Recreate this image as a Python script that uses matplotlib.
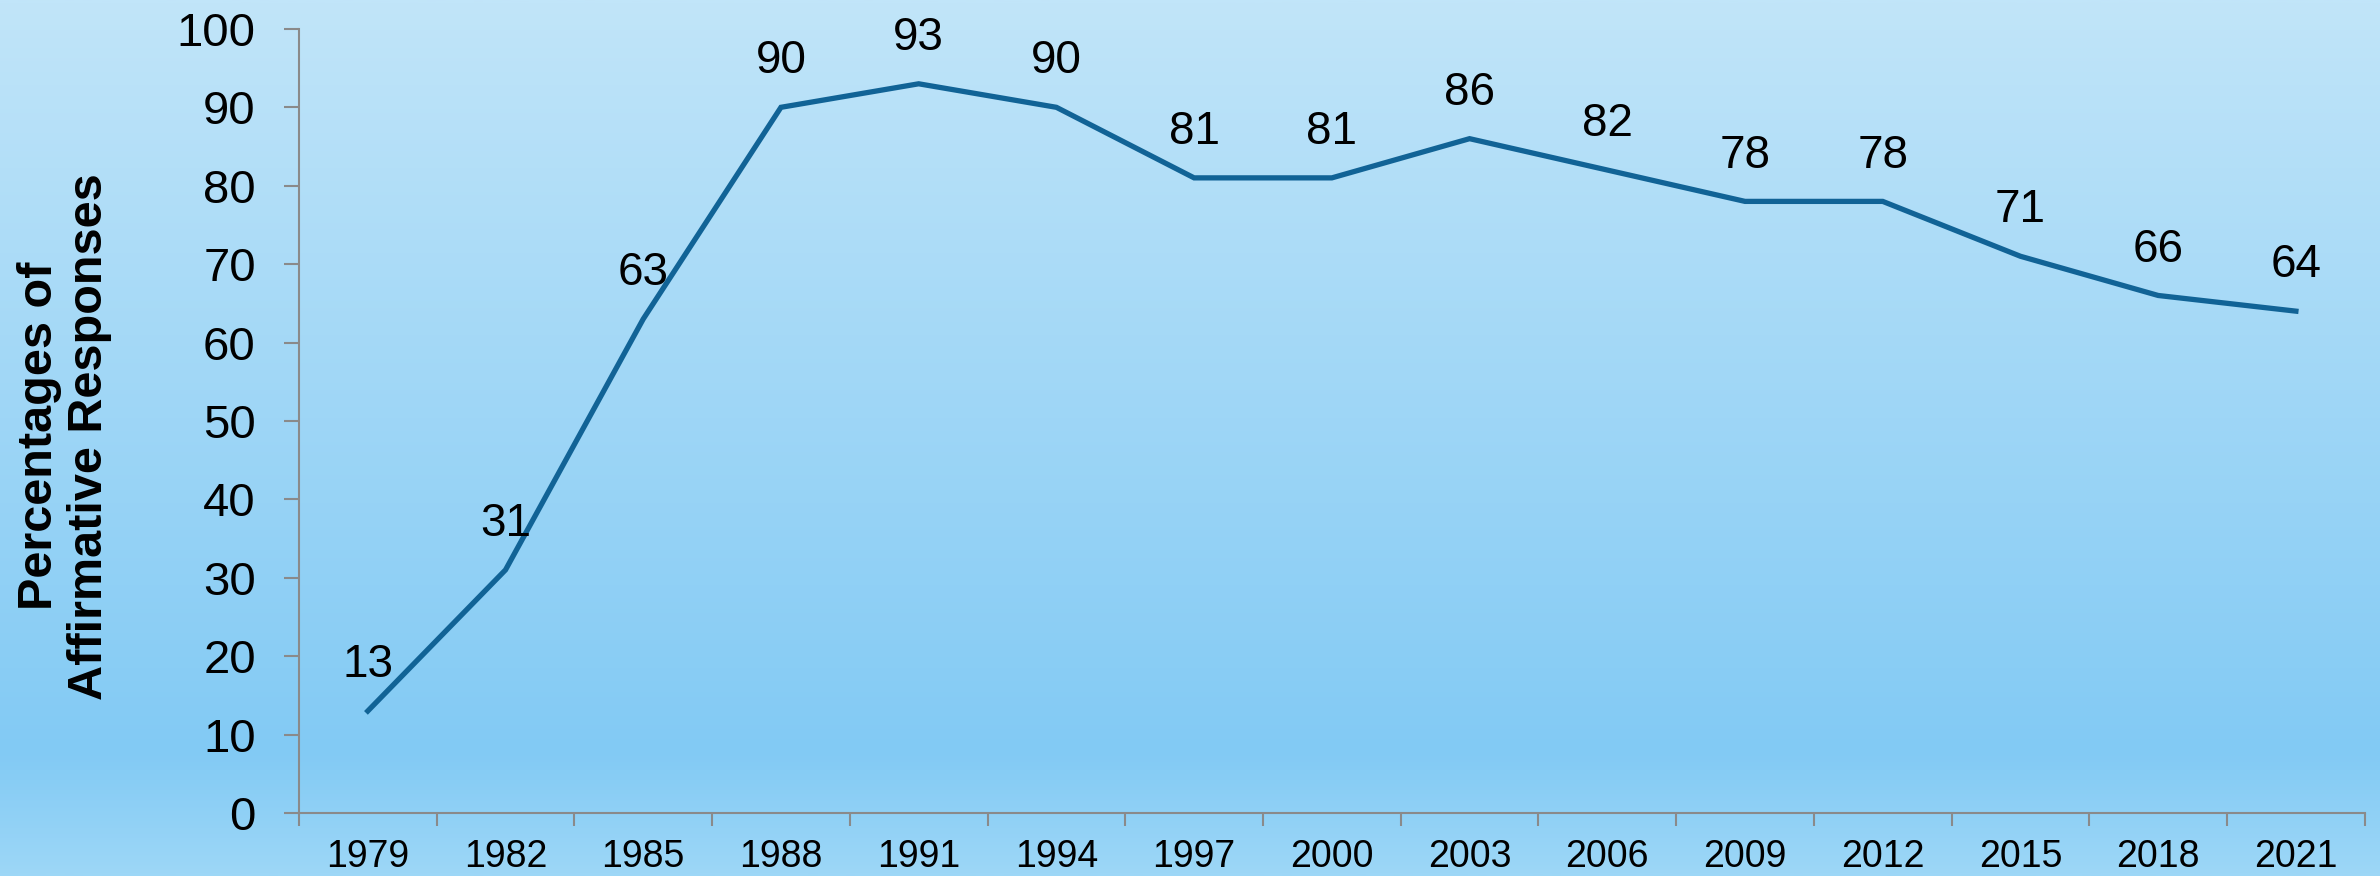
import matplotlib
matplotlib.use("Agg")
import matplotlib.pyplot as plt
import numpy as np
from matplotlib.colors import LinearSegmentedColormap
from matplotlib import font_manager

years = ["1979", "1982", "1985", "1988", "1991", "1994", "1997", "2000",
         "2003", "2006", "2009", "2012", "2015", "2018", "2021"]
values = [13, 31, 63, 90, 93, 90, 81, 81, 86, 82, 78, 78, 71, 66, 64]
y_ticks = [0, 10, 20, 30, 40, 50, 60, 70, 80, 90, 100]
y_label = "Percentages of\nAffirmative Responses"

names = {f.name for f in font_manager.fontManager.ttflist}
base_font = "Liberation Sans" if "Liberation Sans" in names else "DejaVu Sans"
plt.rcParams['font.family'] = [base_font, 'DejaVu Sans']

fig = plt.figure(figsize=(23.8, 8.76), dpi=100)

# background gradient
bg = fig.add_axes([0, 0, 1, 1], zorder=0)
cmap = LinearSegmentedColormap.from_list(
    "bg", [(0.0, (193/255, 229/255, 249/255)),
           (0.86, (130/255, 202/255, 244/255)),
           (1.0, (157/255, 215/255, 247/255))])
grad = np.linspace(0, 1, 512).reshape(-1, 1)
bg.imshow(grad, aspect='auto', cmap=cmap, extent=[0, 1, 1, 0])
bg.set_axis_off()

ax = fig.add_axes([0.1256, 0.072, 0.868, 0.895], zorder=1)
ax.patch.set_alpha(0)
x = np.arange(len(years))
ax.plot(x, values, color='#116396', lw=3.8, solid_joinstyle='miter')
for xi, v in zip(x, values):
    ax.annotate(str(v), (xi, v), xytext=(0, 33), textcoords='offset points',
                ha='center', va='center', fontsize=33, color='black')

ax.set_xlim(-0.5, len(years) - 0.5)
ax.set_ylim(0, 100)
ax.set_yticks(y_ticks)
ax.set_yticklabels([str(t) for t in y_ticks], fontsize=34)
ax.set_xticks(x)
ax.set_xticklabels(years, fontsize=27)
ax.set_xticks(np.arange(-0.5, len(years)), minor=True)
ax.tick_params(axis='x', which='major', length=0, pad=19)
ax.tick_params(axis='x', which='minor', length=9, width=1.5, color='#8a8a8a')
ax.tick_params(axis='y', length=11, width=1.5, color='#8a8a8a', pad=20)
for s in ['top', 'right']:
    ax.spines[s].set_visible(False)
for s in ['left', 'bottom']:
    ax.spines[s].set_color('#8a8a8a')
    ax.spines[s].set_linewidth(1.5)

fig.text(0.027, 0.502, y_label, rotation=90, ha='center', va='center',
         fontsize=35, fontweight='bold', linespacing=1.15)

fig.savefig("out.png", dpi=100)
